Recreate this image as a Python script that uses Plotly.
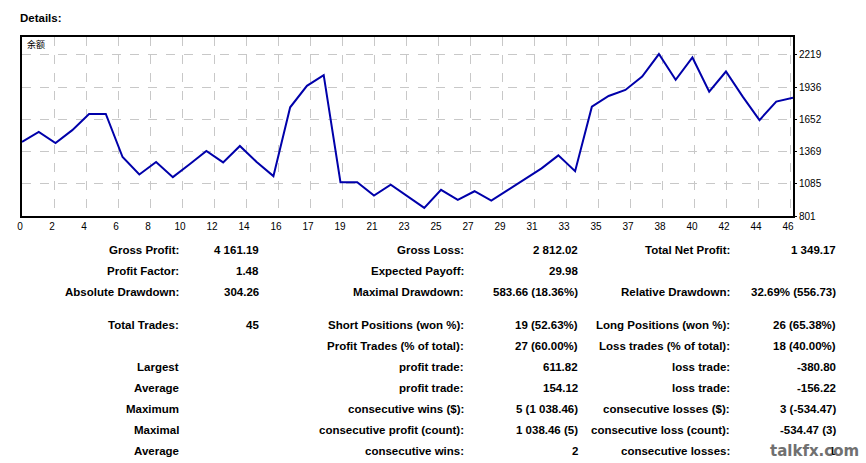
import plotly.graph_objects as go

# ---------------- data ----------------
balance = [1453, 1542, 1444, 1557, 1699, 1699, 1320, 1167, 1276, 1143,
           1256, 1373, 1273, 1418, 1276, 1152, 1758, 1947, 2041, 1099,
           1099, 981, 1076, 975, 872, 1031, 943, 1019, 937, 1031,
           1125, 1220, 1335, 1196, 1763, 1858, 1911, 2029, 2227, 2000,
           2197, 1896, 2073, 1852, 1645, 1808, 1843]
trade_index = list(range(len(balance)))

x_tick_labels = ["0", "2", "4", "6", "8", "10", "12", "14", "16", "17", "19", "21",
                 "23", "25", "27", "29", "31", "33", "35", "37", "38", "40", "42",
                 "44", "46"]
y_tick_values = [801, 1085, 1369, 1652, 1936, 2219]

series_name = "余额"
title_text = "Details:"

row_labels_1 = ["Gross Profit:", "Profit Factor:", "Absolute Drawdown:", "Total Trades:",
                "", "Largest", "Average", "Maximum", "Maximal", "Average"]
row_values_1 = ["4 161.19", "1.48", "304.26", "45", "", "", "", "", "", ""]
row_labels_2 = ["Gross Loss:", "Expected Payoff:", "Maximal Drawdown:",
                "Short Positions (won %):", "Profit Trades (% of total):",
                "profit trade:", "profit trade:", "consecutive wins ($):",
                "consecutive profit (count):", "consecutive wins:"]
row_values_2 = ["2 812.02", "29.98", "583.66 (18.36%)", "19 (52.63%)", "27 (60.00%)",
                "611.82", "154.12", "5 (1 038.46)", "1 038.46 (5)", "2"]
row_labels_3 = ["Total Net Profit:", "", "Relative Drawdown:", "Long Positions (won %):",
                "Loss trades (% of total):", "loss trade:", "loss trade:",
                "consecutive losses ($):", "consecutive loss (count):",
                "consecutive losses:"]
row_values_3 = ["1 349.17", "", "32.69% (556.73)", "26 (65.38%)", "18 (40.00%)",
                "-380.80", "-156.22", "3 (-534.47)", "-534.47 (3)", "1"]
watermark = "talkfx.com"

# ---------------- layout geometry ----------------
W, H = 866, 463
PL, PR, PT, PB = 22, 793, 37, 216          # plot area in pixels
FONT = "Tahoma, Liberation Sans, Arial, sans-serif"


def px_x(x):
    return (x - PL) / (PR - PL)


def px_y(y):
    return (PB - y) / (PB - PT)


n_steps = len(balance) - 1
grid_px = 32
step = grid_px * n_steps / (PR - PL)
x_tick_vals = [k * step for k in range(len(x_tick_labels))]

fig = go.Figure()
fig.add_trace(go.Scatter(
    x=trade_index, y=balance, mode="lines",
    line=dict(color="#0000AA", width=2),
    hoverinfo="skip", showlegend=False,
))

fig.update_layout(
    width=W, height=H,
    margin=dict(l=PL, r=W - PR, t=PT, b=H - PB, pad=0),
    paper_bgcolor="white", plot_bgcolor="white",
    font=dict(family=FONT, size=10, color="black"),
    showlegend=False,
)
fig.update_xaxes(
    range=[0, n_steps], tickmode="array", tickvals=x_tick_vals, ticktext=x_tick_labels,
    showgrid=True, gridcolor="#c8c8c8", griddash="dash", gridwidth=1,
    showline=True, linecolor="black", linewidth=2, mirror=True,
    ticks="", ticklabelshift=-2, zeroline=False,
    tickfont=dict(family=FONT, size=10, color="black"),
)
fig.update_yaxes(
    range=[801, 2377], side="right", tickmode="array", tickvals=y_tick_values,
    showgrid=True, gridcolor="#c8c8c8", griddash="dash", gridwidth=1,
    showline=True, linecolor="black", linewidth=2, mirror=True,
    ticks="outside", ticklen=2, tickcolor="black", zeroline=False,
    tickfont=dict(family=FONT, size=10, color="black"),
)

ann = []
ann.append(dict(text=title_text, x=px_x(18), y=px_y(18), xref="paper", yref="paper",
                xanchor="left", yanchor="middle", showarrow=False,
                font=dict(family=FONT, size=11.5, color="black", weight="bold")))
ann.append(dict(text=series_name, x=px_x(25), y=px_y(45), xref="paper", yref="paper",
                xanchor="left", yanchor="middle", showarrow=False,
                font=dict(family="Noto Sans CJK SC", size=9, color="black")))

row_y = [250, 271, 292, 325, 346, 367, 388, 409, 430, 451]
col_right = [181, 261, 466, 580, 732, 838]
cols = [row_labels_1, row_values_1, row_labels_2, row_values_2, row_labels_3, row_values_3]
for ci, col in enumerate(cols):
    for ri, txt in enumerate(col):
        if not txt:
            continue
        ann.append(dict(text=txt, x=px_x(col_right[ci]), y=px_y(row_y[ri]),
                        xref="paper", yref="paper", xanchor="right", yanchor="middle",
                        showarrow=False,
                        font=dict(family=FONT, size=11.5, color="black", weight="bold")))

ann.append(dict(text=watermark, x=px_x(815), y=px_y(451), xref="paper", yref="paper",
                xanchor="center", yanchor="middle", showarrow=False,
                font=dict(family="DejaVu Sans", size=15, color="#707070", weight="bold")))

fig.update_layout(annotations=ann)
fig.write_html("out.html", config={"displayModeBar": False},
               post_script="document.body.style.margin='0';document.body.style.padding='0';")
